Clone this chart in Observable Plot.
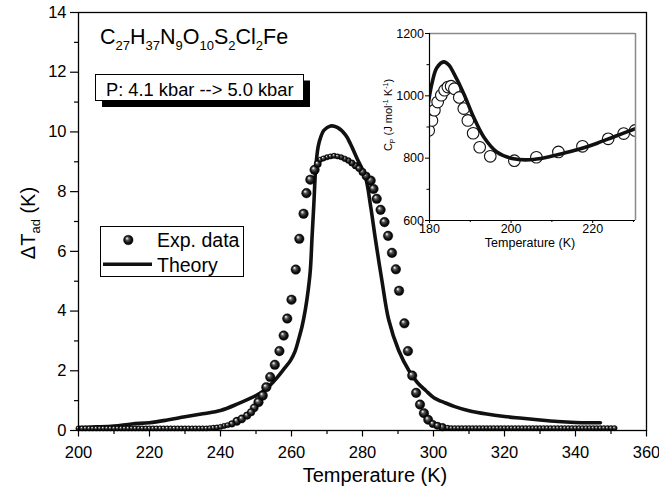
<!DOCTYPE html>
<html><head><meta charset="utf-8">
<script src="https://cdn.jsdelivr.net/npm/d3@7"></script>
<script src="https://cdn.jsdelivr.net/npm/@observablehq/plot@0.6"></script>
<style>
body{margin:0;background:#fff;}
#wrap{position:relative;width:659px;height:491px;font-family:"Liberation Sans",Arial,sans-serif;}
#wrap svg{position:absolute;overflow:visible;}
</style></head><body><div id="wrap"></div>
<script>
// ---------- main chart data ----------
const expLeftT = [200,201,202,203,204,205,206,207,208,209,210,211,212,213,214,215,216,217,218,219,220,221,222,223,224,225,226,227,228,229,230,231,232,233,234,235,236,237,238,239,240,241,242];
const expLeftDT = [0.07,0.07,0.07,0.07,0.07,0.07,0.07,0.07,0.07,0.07,
                   0.07,0.07,0.07,0.07,0.07,0.07,0.07,0.07,0.07,0.07,
                   0.07,0.07,0.07,0.07,0.07,0.07,0.07,0.07,0.07,0.07,
                   0.07,0.07,0.07,0.07,0.07,0.07,0.07,0.08,0.09,0.10,0.12,0.15,0.18];
const expMidT = [243.2,244.6,246.0,247.5,248.6,249.5,250.7,251.9,252.9,254.0,255.3,256.6,257.8,258.8,260.0,261.2,262.2,263.4,264.2,265.3,266.5,267.4,268.1,269,270,271,272,273,274,275,276,277,278,279,280,281,282.3,283.1,284.0,285.1,286.2,287.2,288.3,289.4,290.3,291.8,292.8,294.0,295.1,296.2,297.3,298.5,299.8,301.1,302.5];
const expMidDT = [0.22,0.31,0.39,0.50,0.61,0.76,0.95,1.17,1.45,1.79,2.20,2.66,3.18,3.75,4.38,5.39,6.42,7.26,7.95,8.40,8.73,8.93,9.07,9.11,9.15,9.18,9.20,9.18,9.15,9.10,9.04,8.96,8.87,8.78,8.66,8.52,8.37,8.09,7.76,7.39,6.98,6.52,5.95,5.40,4.68,3.59,2.66,1.84,1.26,0.87,0.58,0.36,0.22,0.16,0.11];
const expRightT = [304,305,306,307,308,309,310,311,312,313,314,315,316,317,318,319,320,321,322,323,324,325,326,327,328,329,330,331,332,333,334,335,336,337,338,339,340,341,342,343,344,345,346,347,348,349,350,351];
const expRightDT = [0.09,0.08,0.08,0.08,0.08,0.08,0.08,0.08,0.08,0.08,
                    0.08,0.08,0.08,0.08,0.08,0.08,0.08,0.08,0.08,0.08,
                    0.08,0.08,0.08,0.08,0.08,0.08,0.08,0.08,0.08,0.08,
                    0.08,0.08,0.08,0.08,0.08,0.08,0.08,0.08,0.08,0.08,
                    0.08,0.08,0.08,0.08,0.08,0.08,0.08,0.08];

const theoryT = [200,205,210,215,220,225,230,235,240,245,250,252,254,256,258,259.7,261,262,263,263.9,264.7,265.3,265.8,266.3,266.8,267.5,268.3,269.1,271,272.9,275.2,276.6,278.5,280.8,282.3,283.7,285.5,287.4,290.2,293.1,295.5,297.8,300.1,303.4,306,310,315,320,325,330,335,340,344,347];
const theoryDT = [0.10,0.12,0.15,0.22,0.26,0.35,0.46,0.56,0.67,0.90,1.17,1.32,1.52,1.78,2.08,2.34,2.65,3.05,3.50,4.05,4.70,5.36,6.50,7.60,8.75,9.50,9.85,10.05,10.20,10.15,9.90,9.60,9.10,8.50,7.50,6.36,5.00,3.70,2.68,2.00,1.60,1.34,1.10,0.92,0.80,0.66,0.55,0.47,0.41,0.35,0.30,0.27,0.26,0.26];

const xTicks = [200,220,240,260,280,300,320,340,360];
const xMinor = [210,230,250,270,290,310,330,350];
const yTicks = [0,2,4,6,8,10,12,14];
const yMinor = [1,3,5,7,9,11,13];

// ---------- inset data ----------
const cpExpT = [179.8,180.6,181.2,182.0,182.9,183.7,184.5,185.3,186.1,187.3,188.4,189.4,190.7,192.3,194.9,200.8,206.2,211.6,217.5,223.8,227.6,230.4];
const cpExp  = [889,921,954,980,1002,1018,1028,1031,1023,995,959,921,880,835,806,792,803,820,838,862,879,889];
const cpThT = [179.7,180.6,181.8,183.5,184.8,186.0,188.4,190.8,193.3,196.5,200.6,204.7,208.8,212.9,217.0,221.1,225.1,230.5];
const cpTh  = [975,1040,1090,1109,1098,1071,1007,932,868,820,798,795,803,816,830,848,868,895];
const inXTicks = [180,200,220];
const inXMinor = [190,210,230];
const inYTicks = [600,800,1000,1200];
const inYMinor = [700,900,1100];

// ---------- build ----------
const FONT = "Liberation Sans, Arial, sans-serif";
const ns = "http://www.w3.org/2000/svg";
const W = 659, H = 491;
const mL = 78, mR = 13, mT = 12, mB = 61;
const xDom = [200, 360], yDom = [0, 14];

const expT = [...expLeftT, ...expMidT, ...expRightT];
const expDT = [...expLeftDT, ...expMidDT, ...expRightDT];
const exp = expT.map((t, i) => ({T: t, dT: expDT[i]}));
const theory = theoryT.map((t, i) => ({T: t, dT: theoryDT[i]}));

// dense runs of points look smaller: radius from neighbour distance in pixels
const kx = (W - mL - mR) / (xDom[1] - xDom[0]);
const ky = (H - mT - mB) / (yDom[1] - yDom[0]);
const expR = exp.map((p, i) => {
  let d = Infinity;
  for (const j of [i - 1, i + 1]) {
    if (j < 0 || j >= exp.length) continue;
    d = Math.min(d, Math.hypot((exp[j].T - p.T) * kx, (exp[j].dT - p.dT) * ky));
  }
  return Math.max(2.7, Math.min(4.8, 0.75 * d));
});

function defsMark() {
  const g = document.createElementNS(ns, "g");
  g.innerHTML = '<defs><radialGradient id="sph" cx="0.5" cy="0.5" r="0.5" fx="0.34" fy="0.3">' +
    '<stop offset="0" stop-color="#ffffff"/><stop offset="0.12" stop-color="#d0d0d0"/>' +
    '<stop offset="0.35" stop-color="#555"/><stop offset="0.7" stop-color="#141414"/>' +
    '<stop offset="1" stop-color="#000"/></radialGradient></defs>';
  return g;
}

const main = Plot.plot({
  width: W, height: H,
  marginLeft: mL, marginRight: mR, marginTop: mT, marginBottom: mB,
  x: {domain: xDom}, y: {domain: yDom},
  r: {type: "linear", domain: [0, 10], range: [0, 10]},
  style: {fontFamily: FONT, background: "transparent", color: "#000"},
  marks: [
    defsMark,
    Plot.axisX({ticks: xTicks, tickSize: 6.5, tickPadding: 9, fontSize: 16.5, label: null, strokeWidth: 1.2}),
    Plot.axisX({ticks: xMinor, tickSize: 4, tickFormat: () => "", label: null, strokeWidth: 1.2}),
    Plot.axisY({ticks: yTicks, tickSize: 8, tickPadding: 4, fontSize: 16.5, label: null, strokeWidth: 1.2}),
    Plot.axisY({ticks: yMinor, tickSize: 4, tickFormat: () => "", label: null, strokeWidth: 1.2}),
    Plot.line(theory, {x: "T", y: "dT", stroke: "#111", strokeWidth: 3.6, curve: "catmull-rom"}),
    Plot.dot(exp, {x: "T", y: "dT", r: (d, i) => expR[i], fill: "url(#sph)", stroke: "#000", strokeWidth: 0.4}),
    Plot.frame({stroke: "#000", strokeWidth: 1.3})
  ]
});
main.style.left = "0px"; main.style.top = "0px";
document.getElementById("wrap").appendChild(main);

const s = d3.select(main);
const txt = (sel, x, y, size) => sel.append("text").attr("x", x).attr("y", y).attr("font-size", size)
  .attr("font-family", FONT).attr("fill", "#000").attr("text-anchor", "start");
// formula
const f = txt(s, 100, 43.5, 21.5);
[["C",0],["27",1],["H",0],["37",1],["N",0],["9",1],["O",0],["10",1],["S",0],["2",1],["Cl",0],["2",1],["Fe",0]]
  .forEach(([t, sub], k) => {
    const ts = f.append("tspan").text(t);
    if (sub) ts.attr("font-size", 13).attr("dy", 6);
    else if (k > 0) ts.attr("dy", -6);
  });
// pressure box with shadow
s.append("rect").attr("x", 102).attr("y", 80.5).attr("width", 208).attr("height", 26.5).attr("fill", "#000");
s.append("rect").attr("x", 95.5).attr("y", 74.5).attr("width", 208).attr("height", 26).attr("fill", "#fff")
  .attr("stroke", "#000").attr("stroke-width", 1);
txt(s, 106, 96, 18.3).text("P: 4.1 kbar --> 5.0 kbar");
// legend
s.append("rect").attr("x", 100.5).attr("y", 226.5).attr("width", 143).attr("height", 50).attr("fill", "#fff")
  .attr("stroke", "#000").attr("stroke-width", 1);
s.append("circle").attr("cx", 128.3).attr("cy", 240).attr("r", 4.8).attr("fill", "url(#sph)")
  .attr("stroke", "#000").attr("stroke-width", 0.4);
txt(s, 157, 246.5, 19.5).text("Exp. data");
s.append("line").attr("x1", 103).attr("x2", 152).attr("y1", 264.3).attr("y2", 264.3)
  .attr("stroke", "#111").attr("stroke-width", 3.6);
txt(s, 157, 271.5, 19.5).text("Theory");
// axis labels
s.append("text").attr("x", 375).attr("y", 481.5).attr("text-anchor", "middle").attr("font-size", 20)
  .attr("font-family", FONT).text("Temperature (K)");
const yl = s.append("text").attr("transform", "translate(35,223) rotate(-90)").attr("text-anchor", "middle")
  .attr("font-size", 20).attr("font-family", FONT);
yl.append("tspan").text("\u0394T");
yl.append("tspan").text("ad").attr("font-size", 13).attr("dy", 5);
yl.append("tspan").text(" (K)").attr("dy", -5);

// ---------- inset ----------
const inXDom = [180, 230.5], inYDom = [600, 1200];
const cpE = cpExpT.map((t, i) => ({T: t, c: cpExp[i]}));
const cpT = cpThT.map((t, i) => ({T: t, c: cpTh[i]}));
const inset = Plot.plot({
  width: 260, height: 235,
  marginLeft: 49, marginRight: 5, marginTop: 13, marginBottom: 35,
  x: {domain: inXDom}, y: {domain: inYDom},
  style: {fontFamily: FONT, background: "transparent", color: "#000"},
  marks: [
    Plot.frame({fill: "#fff", stroke: null}),
    Plot.axisX({ticks: inXTicks, tickSize: 3, tickPadding: 1, fontSize: 12.5, label: null, tickFormat: d3.format("d")}),
    Plot.axisX({ticks: inXMinor, tickSize: 2, tickFormat: () => "", label: null}),
    Plot.axisY({ticks: inYTicks, tickSize: 4, tickPadding: 1.5, fontSize: 12.5, label: null, tickFormat: d3.format("d")}),
    Plot.axisY({ticks: inYMinor, tickSize: 2.5, tickFormat: () => "", label: null}),
    Plot.dot(cpE, {x: "T", y: "c", r: 5.8, fill: "#fff", stroke: "#111", strokeWidth: 1.1, clip: true}),
    Plot.line(cpT, {x: "T", y: "c", stroke: "#111", strokeWidth: 3.6, curve: "catmull-rom", clip: true}),
    Plot.ruleY([inYDom[1]], {stroke: "#8a8a8a", strokeWidth: 1.5}),
    Plot.ruleX([inXDom[1]], {stroke: "#8a8a8a", strokeWidth: 1.5}),
    Plot.ruleY([inYDom[0]], {stroke: "#000", strokeWidth: 1.2}),
    Plot.ruleX([inXDom[0]], {stroke: "#000", strokeWidth: 1.2})
  ]
});
inset.style.left = "380px"; inset.style.top = "20px";
document.getElementById("wrap").appendChild(inset);
const si = d3.select(inset);
si.append("text").attr("x", 150).attr("y", 226.5).attr("text-anchor", "middle").attr("font-size", 12.5)
  .attr("font-family", FONT).text("Temperature (K)");
const cl = si.append("text").attr("transform", "translate(12,95) rotate(-90)").attr("text-anchor", "middle")
  .attr("font-size", 11).attr("font-family", FONT);
cl.append("tspan").text("C");
cl.append("tspan").text("P").attr("font-size", 7).attr("dy", 3);
cl.append("tspan").text(" (J mol").attr("dy", -3);
cl.append("tspan").text("-1").attr("font-size", 7).attr("dy", -4);
cl.append("tspan").text(" K").attr("dy", 4);
cl.append("tspan").text("-1").attr("font-size", 7).attr("dy", -4);
cl.append("tspan").text(")").attr("dy", 4);
</script>
</body></html>
